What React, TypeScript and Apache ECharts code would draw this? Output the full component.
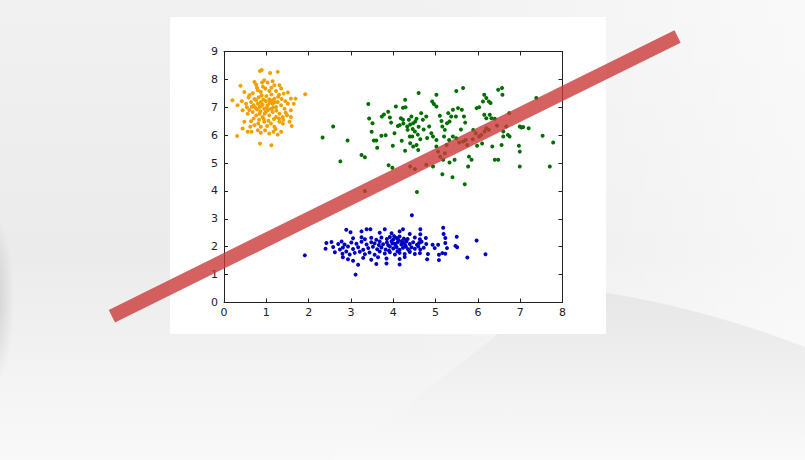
import { useEffect, useRef } from "react";
import * as echarts from "echarts";

// axis ranges and tick labels (matplotlib-style plot)
const xTicks = [0, 1, 2, 3, 4, 5, 6, 7, 8];
const yTicks = [0, 1, 2, 3, 4, 5, 6, 7, 8, 9];

// cluster points
const orangePts = [
  [0.85, 8.3], [0.89, 8.34], [1.09, 8.23], [1.27, 8.27],
  [0.39, 7.77], [0.72, 7.91], [0.76, 7.81], [0.9, 7.89], [0.95, 7.97], [1.03, 7.89], [1.15, 7.93], [1.19, 7.79], [1.31, 7.79], [1.35, 7.67],
  [0.48, 7.55], [0.6, 7.43], [0.8, 7.61], [0.87, 7.55], [0.98, 7.67], [1.07, 7.58], [1.23, 7.58], [1.41, 7.49], [1.51, 7.53], [1.58, 7.31], [1.69, 7.31], [1.92, 7.47],
  [0.2, 7.25], [0.32, 7.07], [0.42, 7.22], [0.44, 6.89], [0.52, 7.13],
  [0.64, 7.19], [0.7, 7.07], [0.76, 7.25], [0.8, 7.13], [0.84, 7.01], [0.87, 7.19], [0.91, 7.1], [0.95, 6.95], [0.99, 7.22], [1.03, 7.07], [1.07, 7.29], [1.11, 6.95], [1.15, 7.13], [1.19, 7.31], [1.23, 7.01], [1.27, 7.19], [1.35, 7.07], [1.43, 6.95], [1.51, 7.13], [1.58, 6.89], [1.65, 7.13],
  [0.56, 6.77], [0.68, 6.83], [0.76, 6.71], [0.84, 6.77], [0.91, 6.65], [0.99, 6.83], [1.07, 6.71], [1.15, 6.83], [1.23, 6.65], [1.31, 6.77], [1.39, 6.65], [1.49, 6.71], [1.58, 6.65],
  [0.48, 6.48], [0.64, 6.5], [0.72, 6.36], [0.81, 6.42], [0.87, 6.3], [0.95, 6.48], [1.02, 6.33], [1.11, 6.42], [1.19, 6.3], [1.31, 6.48], [1.39, 6.42], [1.55, 6.48], [1.6, 6.33],
  [0.31, 5.97], [0.44, 6.24], [0.56, 6.12], [0.65, 6.12], [0.8, 6.18], [0.87, 6.09], [0.97, 6.18], [1.07, 6.06], [1.17, 6.12], [1.27, 6.02], [1.35, 6.12],
  [0.85, 5.7], [1.12, 5.64],
  [0.66, 7.02], [0.72, 7.3], [0.78, 6.92], [0.82, 7.36], [0.86, 6.86], [0.89, 7.42], [0.93, 7.28], [0.96, 6.78], [1.0, 7.4], [1.04, 6.9], [1.08, 7.16], [1.12, 7.46], [1.16, 6.98], [1.2, 7.18], [1.24, 6.88], [1.28, 7.38], [0.74, 6.98], [0.88, 7.05], [1.01, 6.98], [1.13, 7.24],
  [0.7, 6.6], [0.83, 6.55], [0.94, 6.58], [1.05, 6.52], [1.18, 6.58], [1.3, 6.6], [0.6, 6.9], [0.58, 7.35], [1.36, 7.3], [1.45, 7.22],
  [0.78, 7.7], [0.92, 7.74], [1.12, 7.7], [1.3, 7.45], [0.68, 7.5], [0.54, 7.0], [1.46, 6.8], [1.4, 6.55], [0.62, 6.3], [1.22, 6.22],
];

const greenPts = [
  [2.33, 5.92], [2.58, 6.31], [2.75, 5.06], [2.92, 5.81], [3.25, 5.29], [3.33, 5.21], [3.33, 4.0], [3.41, 7.12], [3.43, 6.6], [3.51, 6.43],
  [3.49, 6.12], [3.54, 5.81], [3.6, 5.81], [3.62, 5.55], [3.73, 6.67], [3.78, 6.74], [3.88, 6.84], [3.92, 6.63], [3.82, 6.0], [3.89, 4.92],
  [3.98, 4.83], [4.03, 6.07], [3.99, 5.62], [4.06, 7.03], [4.11, 6.33], [4.15, 6.36], [4.23, 6.98], [4.29, 7.0], [4.28, 7.27], [4.18, 6.61],
  [4.23, 6.55], [4.33, 6.31], [4.37, 6.55], [4.43, 6.67], [4.47, 6.43], [4.52, 6.49], [4.55, 6.59], [4.34, 6.19], [4.39, 5.95], [4.45, 5.95],
  [4.51, 6.13], [4.4, 5.71], [4.47, 5.59], [4.55, 5.65], [4.59, 5.47], [4.4, 4.88], [4.51, 4.79], [4.56, 3.96], [4.6, 7.51], [4.66, 6.79],
  [4.7, 6.55], [4.78, 6.67], [4.85, 6.31], [4.9, 6.07], [4.94, 5.95], [5.02, 5.83], [4.92, 7.21], [4.96, 7.12], [5.02, 7.45], [5.02, 7.03],
  [4.78, 4.94], [4.94, 4.88], [5.02, 5.59], [5.06, 5.41], [5.11, 5.23], [5.18, 5.12], [5.22, 5.35], [5.26, 5.65], [5.32, 5.83], [5.14, 6.51],
  [5.16, 6.31], [5.22, 6.19], [5.27, 6.43], [5.33, 6.49], [5.3, 6.79], [5.37, 6.67], [5.41, 6.91], [5.48, 6.67], [5.53, 6.97], [5.62, 6.91],
  [5.49, 7.58], [5.65, 7.69], [5.67, 6.67], [5.16, 4.6], [5.4, 4.49], [5.69, 4.24], [5.41, 5.95], [5.49, 5.89], [5.56, 5.74], [5.65, 5.77],
  [5.71, 5.83], [5.75, 5.65], [5.33, 5.02], [5.45, 5.12], [5.77, 4.88], [5.85, 5.12], [5.79, 5.23], [5.89, 6.19], [5.95, 6.07], [5.98, 5.62],
  [6.03, 5.95], [6.08, 6.01], [6.16, 6.13], [6.2, 6.25], [6.26, 6.19], [5.97, 6.97], [6.03, 7.0], [6.12, 7.21], [6.15, 7.45], [6.2, 7.33],
  [6.26, 7.21], [6.3, 7.15], [6.15, 6.73], [6.2, 6.61], [6.28, 6.73], [6.32, 6.61], [6.4, 6.59], [6.48, 7.63], [6.57, 7.69], [6.58, 7.45],
  [6.34, 5.59], [6.4, 5.12], [6.48, 5.12], [6.56, 5.65], [6.6, 6.13], [6.67, 6.31], [6.74, 6.79], [6.71, 6.01], [6.75, 5.95], [6.97, 5.62],
  [6.99, 5.41], [6.99, 4.88], [6.99, 6.31], [7.03, 6.27], [7.07, 6.29], [7.2, 6.25], [7.38, 7.33], [7.53, 5.98], [7.7, 4.88], [7.78, 5.74],
  [4.24, 6.42], [4.4, 6.38], [4.46, 6.22], [4.6, 6.3], [4.72, 6.2], [4.58, 6.02], [4.64, 5.85], [4.8, 5.9], [4.2, 5.8], [4.28, 5.44],
  [3.72, 5.98], [3.95, 6.45], [5.1, 6.7], [5.2, 5.95], [5.6, 6.2], [5.7, 6.45], [5.88, 5.85], [6.1, 5.7], [6.45, 6.35], [6.6, 5.95],
];

const bluePts = [
  [2.89, 2.61], [2.99, 2.52], [3.25, 2.55], [3.37, 2.63], [3.46, 2.63], [3.68, 2.5], [3.8, 2.63], [3.96, 2.48], [4.15, 2.55], [4.23, 2.63], [4.39, 2.46], [4.64, 2.63], [4.64, 2.45],
  [3.05, 2.3], [3.25, 2.34], [3.33, 2.27], [3.48, 2.32], [3.6, 2.25], [3.72, 2.33], [3.85, 2.28], [3.92, 2.35], [4.0, 2.26], [4.08, 2.31], [4.15, 2.37], [4.25, 2.29], [4.3, 2.24], [4.51, 2.33], [4.63, 2.27], [4.77, 2.31], [5.23, 2.31], [5.5, 2.36],
  [2.42, 2.13], [2.54, 2.17], [2.7, 2.1], [2.78, 2.19], [2.85, 2.08], [3.01, 2.15], [3.13, 2.11], [3.25, 2.18], [3.37, 2.08], [3.48, 2.16], [3.56, 2.12], [3.68, 2.19], [3.76, 2.09], [3.85, 2.15], [3.96, 2.2],
  [4.04, 2.11], [4.11, 2.17], [4.19, 2.08], [4.23, 2.14], [4.31, 2.19], [4.39, 2.1], [4.47, 2.16], [4.56, 2.07], [4.61, 2.13], [4.67, 2.18], [4.78, 2.1], [4.93, 2.07], [5.06, 2.07], [5.23, 2.13],
  [2.4, 1.93], [2.58, 1.99], [2.74, 1.9], [2.81, 1.97], [2.93, 2.01], [3.05, 1.92], [3.17, 1.98], [3.29, 1.89], [3.41, 1.95], [3.52, 2.0], [3.62, 1.91], [3.72, 1.97], [3.82, 1.9], [3.92, 2.01], [4.0, 1.94],
  [4.08, 1.98], [4.15, 1.89], [4.23, 1.96], [4.3, 2.0], [4.35, 1.91], [4.43, 1.98], [4.51, 1.93], [4.59, 2.01], [4.64, 1.9], [4.72, 1.96], [4.98, 1.95], [5.27, 1.95], [5.47, 2.03], [5.51, 1.98],
  [2.62, 1.8], [2.8, 1.75], [2.89, 1.83], [2.97, 1.72], [3.09, 1.78], [3.21, 1.82], [3.33, 1.73], [3.44, 1.79], [3.56, 1.71], [3.68, 1.83], [3.8, 1.76], [3.92, 1.8], [4.04, 1.72], [4.15, 1.78], [4.27, 1.74],
  [4.39, 1.81], [4.51, 1.74], [4.63, 1.77], [4.82, 1.74], [5.08, 1.71], [5.16, 1.77], [5.23, 1.75],
  [2.81, 1.62], [2.93, 1.55], [3.05, 1.5], [3.29, 1.6], [3.48, 1.53], [3.64, 1.62], [3.84, 1.58], [4.15, 1.56], [4.27, 1.63], [4.8, 1.55], [5.08, 1.52], [5.75, 1.61],
  [3.17, 1.35], [3.6, 1.38], [3.84, 1.4], [4.15, 1.36],
  [1.91, 1.69], [4.44, 3.13], [3.11, 1.0], [6.18, 1.73], [5.97, 2.22], [5.18, 2.68], [5.19, 2.46],
  [3.88, 2.05], [3.98, 2.12], [4.06, 2.04], [4.12, 2.24], [4.2, 2.2], [4.28, 2.06], [4.34, 2.28], [4.02, 2.38], [3.9, 1.86], [4.1, 1.84], [4.38, 1.86], [3.66, 2.06],
];

// the red separating line: start x, start y, end x, end y (runs past the axes)
const redLine = [[-2.65, -0.49, 10.72, 9.54]];

// slide backdrop swoosh (bottom right), page pixels
const swooshPath =
  "M560 286 C640 296 720 314 805 347 L805 460 L330 460 C420 400 500 330 560 286 Z";

const App = () => {
  const chartRef = useRef<HTMLDivElement>(null);

  useEffect(() => {
    if (!chartRef.current) return;
    echarts.graphic.registerShape("swoosh", echarts.graphic.extendPath(swooshPath, {}));
    const chart = echarts.init(chartRef.current, null, { renderer: "svg" });

    const tickFont = { fontFamily: "DejaVu Sans", fontSize: 11, color: "#222" };
    const mainX = {
      type: "value",
      min: 0,
      max: 8,
      interval: 1,
      axisLine: { show: true, onZero: false, lineStyle: { color: "#222", width: 1 } },
      axisTick: { show: true, inside: true, length: 4, lineStyle: { color: "#222" } },
      axisLabel: { ...tickFont, margin: 4, formatter: (v: number) => String(xTicks[v] ?? v) },
      splitLine: { show: false },
    };
    const mainY = {
      type: "value",
      min: 0,
      max: 9,
      interval: 1,
      axisLine: { show: true, onZero: false, lineStyle: { color: "#222", width: 1 } },
      axisTick: { show: true, inside: true, length: 4, lineStyle: { color: "#222" } },
      axisLabel: { ...tickFont, margin: 6, formatter: (v: number) => String(yTicks[v] ?? v) },
      splitLine: { show: false },
    };

    chart.setOption({
      animation: false,
      backgroundColor: "#efefef",
      graphic: [
        {
          type: "rect",
          z: -20,
          shape: { x: 0, y: 0, width: 805, height: 460 },
          style: {
            fill: new echarts.graphic.LinearGradient(0, 0, 0, 1, [
              { offset: 0, color: "#f1f1f1" },
              { offset: 0.55, color: "#ebebeb" },
              { offset: 1, color: "#f9f9f9" },
            ]),
          },
        },
        {
          type: "rect",
          z: -19,
          shape: { x: 400, y: 0, width: 405, height: 460 },
          style: {
            fill: new echarts.graphic.LinearGradient(0, 0, 1, 0, [
              { offset: 0, color: "rgba(255,255,255,0)" },
              { offset: 1, color: "rgba(255,255,255,0.6)" },
            ]),
          },
        },
        {
          type: "swoosh",
          z: -18,
          x: 0,
          y: 0,
          style: {
            fill: new echarts.graphic.LinearGradient(0, 0, 0, 1, [
              { offset: 0, color: "#e6e6e6" },
              { offset: 0.5, color: "#f0f0f0" },
              { offset: 1, color: "#fafafa" },
            ]),
          },
        },
        {
          type: "ellipse",
          z: -17,
          shape: { cx: -6, cy: 300, rx: 20, ry: 85 },
          style: {
            fill: new echarts.graphic.RadialGradient(0.5, 0.5, 0.5, [
              { offset: 0, color: "rgba(120,120,120,0.28)" },
              { offset: 1, color: "rgba(120,120,120,0)" },
            ]),
          },
        },
        {
          type: "rect",
          z: -10,
          shape: { x: 170, y: 17, width: 436, height: 317 },
          style: { fill: "#ffffff" },
        },
      ],
      grid: { left: 224, top: 51.5, width: 338.5, height: 251 },
      xAxis: [
        mainX,
        { ...mainX, position: "top", axisLabel: { show: false } },
      ],
      yAxis: [
        mainY,
        { ...mainY, position: "right", axisLabel: { show: false } },
      ],
      series: [
        {
          type: "scatter",
          data: orangePts,
          symbolSize: 4,
          itemStyle: { color: "#f2a000", opacity: 1 },
        },
        {
          type: "scatter",
          data: greenPts,
          symbolSize: 4,
          itemStyle: { color: "#006e00", opacity: 1 },
        },
        {
          type: "scatter",
          data: bluePts,
          symbolSize: 4,
          itemStyle: { color: "#0000c4", opacity: 1 },
        },
        {
          type: "custom",
          data: redLine,
          clip: false,
          z: 10,
          renderItem: (_params: any, api: any) => {
            const a = api.coord([api.value(0), api.value(1)]);
            const b = api.coord([api.value(2), api.value(3)]);
            return {
              type: "line",
              shape: { x1: a[0], y1: a[1], x2: b[0], y2: b[1] },
              style: { stroke: "rgba(204,58,58,0.8)", lineWidth: 14, lineCap: "butt" },
            };
          },
        },
      ],
    });

    return () => {
      chart.dispose();
    };
  }, []);

  return (
    <div
      ref={chartRef}
      style={{ position: "absolute", left: 0, top: 0, width: "805px", height: "460px" }}
    ></div>
  );
};

export default App;
